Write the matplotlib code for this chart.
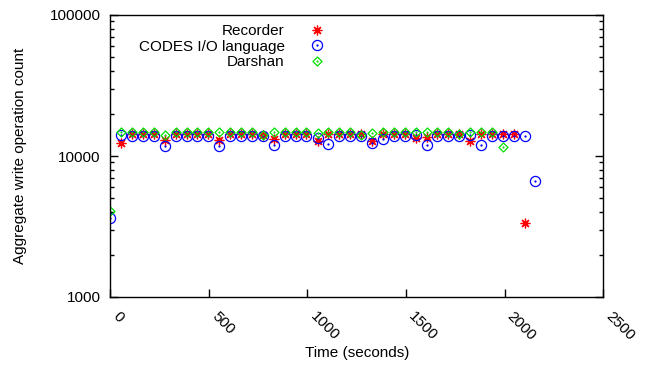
import numpy as np
import matplotlib
matplotlib.use("Agg")
import matplotlib.pyplot as plt
from matplotlib.path import Path
from matplotlib.ticker import FixedLocator, FixedFormatter, LogLocator, NullFormatter

nan = np.nan

# Time (seconds) of each sample
times = [0, 55, 111, 166, 221, 276, 332, 387, 442, 498,
         553, 608, 664, 719, 774, 829, 885, 940, 995, 1051,
         1106, 1161, 1217, 1272, 1327, 1382, 1438, 1493, 1548, 1604,
         1659, 1714, 1770, 1825, 1880, 1935, 1991, 2046, 2101, 2156]

recorder = [nan, 12300, 14400, 14400, 14400, 13000, 14400, 14400, 14400, 14300,
            13000, 14400, 14400, 14400, 14100, 13100, 14400, 14400, 14400, 12800,
            14400, 14400, 14400, 14300, 12800, 14400, 14400, 14400, 13400, 13700,
            14400, 14400, 14400, 12800, 14400, 14400, 14400, 14400, 3370, nan]

codes = [3650, 14000, 13800, 13800, 13800, 11800, 13800, 13800, 13800, 13800,
         11800, 13800, 13800, 13800, 13900, 12000, 13800, 13800, 13800, 13500,
         12200, 13800, 13800, 13800, 12400, 13300, 13800, 13800, 14000, 11900,
         13800, 13800, 13800, 14000, 11900, 13800, 13800, 13800, 13800, 6600]

darshan = [4050, 14700, 14700, 14700, 14700, 14100, 14700, 14700, 14700, 14700,
           14700, 14700, 14700, 14700, 14100, 14700, 14700, 14700, 14700, 14600,
           14700, 14700, 14700, 14200, 14600, 14700, 14700, 14700, 14700, 14700,
           14700, 14700, 14300, 14700, 14700, 14700, 11600, nan, nan, nan]

series_labels = ["Recorder", "CODES I/O language", "Darshan"]
xticks = [0, 500, 1000, 1500, 2000, 2500]
xtick_labels = ["0", "500", "1000", "1500", "2000", "2500"]
yticks = [1000, 10000, 100000]
ytick_labels = ["1000", "10000", "100000"]

plt.rcParams["font.family"] = ["Liberation Sans", "DejaVu Sans"]
plt.rcParams["font.size"] = 11

W, H = 649, 365
fig = plt.figure(figsize=(W / 100, H / 100), dpi=100)
x0, x1, ytop, ybot = 110.3, 603.2, 15, 297
ax = fig.add_axes([x0 / W, 1 - ybot / H, (x1 - x0) / W, (ybot - ytop) / H])

# custom markers: circle with centre dot, diamond with centre dot
circ = Path.make_compound_path(Path.unit_circle(), Path.circle((0, 0), 0.1))
dverts = [(1, 0), (0, 1), (-1, 0), (0, -1), (1, 0)]
dcodes = [Path.MOVETO, Path.LINETO, Path.LINETO, Path.LINETO, Path.CLOSEPOLY]
diam = Path.make_compound_path(Path(dverts, dcodes), Path.circle((0, 0), 0.1))

ax.plot(times, recorder, linestyle="none", marker=(8, 2, 0), markersize=7,
        markeredgewidth=0.9, color="#ff0000", label=series_labels[0])
ax.plot(times, codes, linestyle="none", marker=circ, markersize=7.3,
        markeredgewidth=0.9, markerfacecolor="none", color="#0000ff",
        label=series_labels[1])
ax.plot(times, darshan, linestyle="none", marker=diam, markersize=6.5,
        markeredgewidth=0.9, markerfacecolor="none", color="#00e000",
        label=series_labels[2])

ax.set_yscale("log")
ax.set_xlim(0, 2500)
ax.set_ylim(1000, 100000)
ax.xaxis.set_major_locator(FixedLocator(xticks))
ax.xaxis.set_major_formatter(FixedFormatter(xtick_labels))
ax.yaxis.set_major_locator(FixedLocator(yticks))
ax.yaxis.set_major_formatter(FixedFormatter(ytick_labels))
ax.yaxis.set_minor_locator(LogLocator(base=10, subs=np.arange(2, 10)))
ax.yaxis.set_minor_formatter(NullFormatter())

for s in ax.spines.values():
    s.set_linewidth(1.0)
ax.tick_params(axis="both", which="major", direction="in", length=5.5, width=1.0)
ax.tick_params(axis="both", which="minor", direction="in", length=3, width=1.0)
ax.tick_params(axis="y", which="both", right=True, left=True, pad=7)
ax.tick_params(axis="x", which="both", top=False, pad=8.5)
for lab in ax.get_xticklabels():
    lab.set_rotation(-45)
    lab.set_ha("left")
    lab.set_va("top")

ax.set_xlabel("Time (seconds)")
ax.set_ylabel("Aggregate write operation count")
ax.xaxis.set_label_coords(0.5, (ybot - 353) / (ybot - ytop))
ax.xaxis.label.set_va("center")
ax.yaxis.set_label_coords((20.5 - x0) / (x1 - x0), 0.5)
ax.yaxis.label.set_va("center")

leg = ax.legend(loc="upper right", bbox_to_anchor=(332 / W, 1 - 24 / H),
                bbox_transform=fig.transFigure, markerfirst=False, frameon=False,
                borderpad=0, borderaxespad=0, handletextpad=1.1,
                labelspacing=0.1, handlelength=2.0, fontsize=11)

fig.savefig("out.png", dpi=100)
